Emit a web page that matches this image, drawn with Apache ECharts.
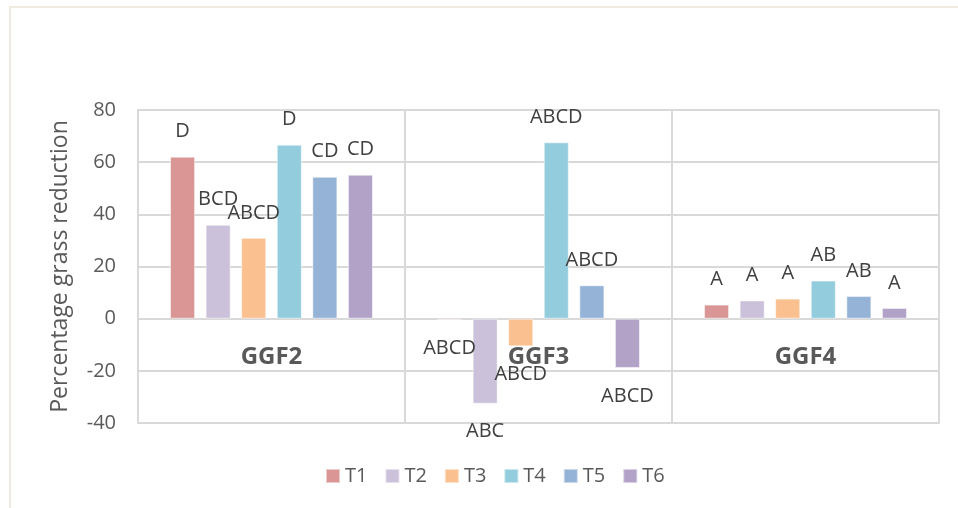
<!DOCTYPE html>
<html>
<head>
<meta charset="utf-8">
<script src="https://cdn.jsdelivr.net/npm/echarts@6/dist/echarts.min.js"></script>
<style>
  html, body { margin: 0; padding: 0; background: #ffffff; }
  #chart { width: 958px; height: 508px; }
</style>
</head>
<body>
<div id="chart"></div>
<script>
// Sites on the category axis
const categories = ['GGF2', 'GGF3', 'GGF4'];

// Treatment names (legend order)
const treatments = ['T1', 'T2', 'T3', 'T4', 'T5', 'T6'];

// Percentage grass reduction per treatment, one value per site
const t1Values = [62.1, -0.5, 5.4];
const t2Values = [36.0, -32.6, 7.0];
const t3Values = [31.0, -10.6, 7.7];
const t4Values = [66.7, 67.6, 14.6];
const t5Values = [54.4, 12.8, 8.7];
const t6Values = [55.2, -18.9, 4.1];

// Significance letters per treatment, one per site
const t1Letters = ['D', 'ABCD', 'A'];
const t2Letters = ['BCD', 'ABC', 'A'];
const t3Letters = ['ABCD', 'ABCD', 'A'];
const t4Letters = ['D', 'ABCD', 'AB'];
const t5Letters = ['CD', 'ABCD', 'AB'];
const t6Letters = ['CD', 'ABCD', 'A'];

// Y axis range and step
const yMin = -40;
const yMax = 80;
const yStep = 20;

const colors = ['#D99694', '#CCC1DA', '#FAC090', '#93CDDD', '#95B3D7', '#B3A2C7'];
const FONT = '"Open Sans", sans-serif';

const GRID_TOP = 110;
const GRID_BOTTOM = 85;
const PLOT_HEIGHT = 508 - GRID_TOP - GRID_BOTTOM;
// category labels sit just under the zero line, inside the plot
const zeroOffset = -PLOT_HEIGHT * (0 - yMin) / (yMax - yMin);

const valueSets = [t1Values, t2Values, t3Values, t4Values, t5Values, t6Values];
const letterSets = [t1Letters, t2Letters, t3Letters, t4Letters, t5Letters, t6Letters];

const series = treatments.map((name, i) => ({
  name: name,
  type: 'bar',
  barGap: '42%',
  barCategoryGap: '24%',
  barMinHeight: 1,
  itemStyle: { color: colors[i], borderColor: 'rgba(255,255,255,0.5)', borderWidth: 1 },
  data: valueSets[i].map((v, j) => ({
    value: v,
    label: {
      show: true,
      position: v >= 0 ? 'top' : 'bottom',
      distance: v >= 0 ? 15 : 18,
      formatter: letterSets[i][j],
      color: '#404040',
      fontFamily: FONT,
      fontSize: 20
    }
  }))
}));

const chart = echarts.init(document.getElementById('chart'), null, { renderer: 'canvas' });
chart.setOption({
  animation: false,
  backgroundColor: '#ffffff',
  color: colors,
  graphic: [{
    type: 'rect',
    shape: { x: 10, y: 7, width: 1000, height: 600 },
    style: { fill: 'none', stroke: '#EFEBE0', lineWidth: 2 },
    silent: true
  }],
  grid: { left: 138, right: 19, top: GRID_TOP, bottom: GRID_BOTTOM, containLabel: false },
  legend: {
    data: treatments,
    left: 320,
    top: 461,
    icon: 'rect',
    itemWidth: 14,
    itemHeight: 14,
    itemGap: 17,
    textStyle: { color: '#595959', fontFamily: FONT, fontSize: 20 }
  },
  xAxis: [{
    type: 'category',
    data: categories,
    axisLine: { onZero: false, lineStyle: { color: '#D9D9D9', width: 2 } },
    axisTick: { show: false },
    splitLine: { show: true, lineStyle: { color: '#D9D9D9', width: 2 } },
    axisLabel: { show: false }
  }, {
    // label-only copy of the category axis, drawn at the zero line
    type: 'category',
    data: categories,
    position: 'bottom',
    offset: zeroOffset,
    axisLine: { show: false },
    axisTick: { show: false },
    splitLine: { show: false },
    axisLabel: {
      color: '#595959',
      fontFamily: FONT,
      fontSize: 24,
      fontWeight: 'bold',
      margin: 26
    }
  }],
  yAxis: {
    type: 'value',
    min: yMin,
    max: yMax,
    interval: yStep,
    name: 'Percentage grass reduction',
    nameLocation: 'middle',
    nameGap: 66,
    nameRotate: 90,
    nameTextStyle: { color: '#595959', fontFamily: FONT, fontSize: 23 },
    axisLine: { show: true, lineStyle: { color: '#D9D9D9', width: 2 } },
    axisTick: { show: false },
    splitLine: { show: true, lineStyle: { color: '#D9D9D9', width: 2 } },
    axisLabel: { color: '#595959', fontFamily: FONT, fontSize: 20, margin: 22 }
  },
  series: series
});
</script>
</body>
</html>
